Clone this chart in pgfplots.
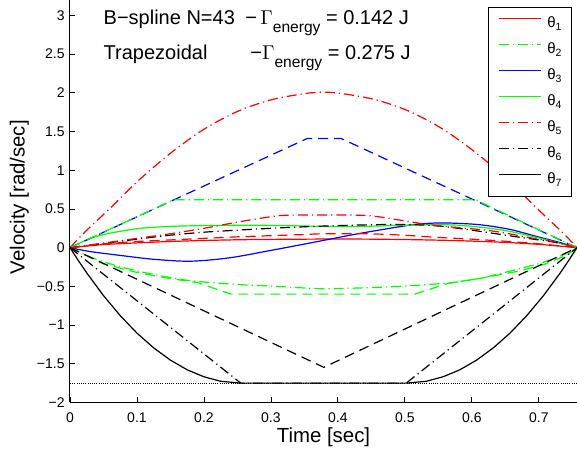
\documentclass[border=0pt]{standalone}
\usepackage{pgfplots}
\pgfplotsset{compat=1.18}
\usepackage{fontspec}
\setmainfont{Liberation Sans}
\tikzset{
    dsh/.style={dash pattern=on 5pt off 3pt},
    dd/.style={dash pattern=on 5pt off 2pt on 0.6pt off 2pt},
}

\begin{document}
\begin{tikzpicture}
\begin{axis}[
    scale only axis,
    width=253.5pt, height=201.25pt,
    xmin=0, xmax=0.757, ymin=-2, ymax=3.2,
    axis x line*=bottom, axis y line*=left,
    axis line style={-, line width=0.5pt},
    xtick={0,0.1,0.2,0.3,0.4,0.5,0.6,0.7},
    xticklabels={0,0.1,0.2,0.3,0.4,0.5,0.6,0.7},
    ytick={-2,-1.5,-1,-0.5,0,0.5,1,1.5,2,2.5,3},
    yticklabels={−2,−1.5,−1,−0.5,0,0.5,1,1.5,2,2.5,3},
    tick align=inside, major tick length=2.5pt,
    every tick/.style={black, line width=0.4pt},
    tick label style={font=\fontsize{7}{8}\selectfont},
    xticklabel style={anchor=base, yshift=-10.25pt},
    yticklabel style={inner sep=2.5pt},
    label style={font=\fontsize{10.2}{12}\selectfont},
    xlabel={Time [sec]},
    ylabel={Velocity [rad/sec]},
    xlabel style={at={(axis description cs:0.5,0)}, anchor=base, yshift=-20.25pt},
    ylabel style={at={(axis description cs:-0.0895,0.51)}, anchor=base},
    legend style={at={(rel axis cs:0.990,0.983)}, anchor=north east,
        draw=black, line width=0.5pt, font=\fontsize{7.5}{8}\selectfont,
        row sep=4.6pt, column sep=3pt, inner xsep=4.5pt, inner ysep=4pt,
        nodes={inner sep=0pt, text height=6.2pt, text depth=2.2pt}},
    legend cell align=left,
    legend image code/.code={\draw[#1, line width=0.7pt] (0pt,2.6pt) -- (21pt,2.6pt);},
    every axis plot/.append style={line width=0.6pt},
]
\addlegendimage{red}
\addlegendentry{θ\textsubscript{1}}
\addlegendimage{green, dd}
\addlegendentry{θ\textsubscript{2}}
\addlegendimage{blue}
\addlegendentry{θ\textsubscript{3}}
\addlegendimage{green}
\addlegendentry{θ\textsubscript{4}}
\addlegendimage{red, dd}
\addlegendentry{θ\textsubscript{5}}
\addlegendimage{black, dd}
\addlegendentry{θ\textsubscript{6}}
\addlegendimage{black}
\addlegendentry{θ\textsubscript{7}}
% B-spline N=43
\addplot[red, smooth, forget plot] coordinates {(0,0) (0.05,0.04) (0.1,0.062) (0.15,0.08) (0.2,0.093) (0.25,0.102) (0.3,0.107) (0.35,0.11) (0.4,0.112) (0.45,0.11) (0.5,0.105) (0.55,0.097) (0.6,0.085) (0.65,0.068) (0.7,0.043) (0.757,0)};
\addplot[green, dd, smooth, forget plot] coordinates {(0,0) (0.025,-0.1) (0.05,-0.183) (0.1,-0.3) (0.174,-0.42) (0.25,-0.475) (0.3,-0.495) (0.376,-0.53) (0.45,-0.515) (0.5,-0.495) (0.572,-0.45) (0.62,-0.38) (0.672,-0.27) (0.71,-0.18) (0.741,-0.075) (0.757,0)};
\addplot[blue, smooth, forget plot] coordinates {(0,0) (0.03,-0.05) (0.075,-0.1) (0.125,-0.15) (0.18,-0.175) (0.239,-0.13) (0.3,-0.035) (0.34,0.03) (0.373,0.085) (0.43,0.18) (0.488,0.265) (0.52,0.305) (0.556,0.32) (0.6,0.305) (0.627,0.28) (0.66,0.23) (0.701,0.135) (0.73,0.07) (0.757,0)};
\addplot[green, smooth, forget plot] coordinates {(0,0) (0.025,0.1) (0.05,0.17) (0.1,0.245) (0.15,0.275) (0.2,0.285) (0.25,0.29) (0.3,0.288) (0.35,0.28) (0.4,0.272) (0.45,0.278) (0.5,0.29) (0.54,0.297) (0.58,0.29) (0.627,0.25) (0.66,0.205) (0.7,0.125) (0.73,0.06) (0.757,0)};
\addplot[red, dd, smooth, forget plot] coordinates {(0,0) (0.022,0.2) (0.06,0.51) (0.1,0.85) (0.15,1.22) (0.2,1.53) (0.25,1.76) (0.3,1.91) (0.35,1.99) (0.3785,2.01) (0.407,1.99) (0.457,1.91) (0.507,1.76) (0.557,1.53) (0.607,1.22) (0.657,0.85) (0.697,0.51) (0.735,0.2) (0.757,0)};
\addplot[black, dd, smooth, forget plot] coordinates {(0,0) (0.05,0.054) (0.1,0.11) (0.149,0.161) (0.2,0.2) (0.249,0.226) (0.3,0.25) (0.35,0.27) (0.4,0.285) (0.45,0.296) (0.5,0.3) (0.55,0.28) (0.6,0.226) (0.667,0.14) (0.726,0.066) (0.757,0)};
\addplot[black, forget plot] coordinates {(0,0) (0.0125,-0.167) (0.025,-0.326) (0.05,-0.619) (0.075,-0.878) (0.1,-1.104) (0.125,-1.295) (0.15,-1.453) (0.175,-1.578) (0.2,-1.668) (0.225,-1.726) (0.255,-1.75) (0.502,-1.75) (0.532,-1.726) (0.557,-1.668) (0.582,-1.578) (0.607,-1.453) (0.632,-1.295) (0.657,-1.104) (0.682,-0.878) (0.707,-0.619) (0.732,-0.326) (0.7445,-0.167) (0.757,0)};
% Trapezoidal
\addplot[red, dsh, smooth, forget plot] coordinates {(0,0) (0.05,0.05) (0.1,0.08) (0.15,0.1) (0.2,0.12) (0.25,0.14) (0.3,0.155) (0.35,0.17) (0.38,0.18) (0.45,0.178) (0.5,0.16) (0.55,0.132) (0.6,0.11) (0.65,0.083) (0.7,0.05) (0.757,0)};
\addplot[green, dsh, forget plot] coordinates {(0,0) (0.05,-0.21) (0.1,-0.32) (0.15,-0.4) (0.19,-0.45) (0.24,-0.6) (0.515,-0.6) (0.565,-0.46) (0.62,-0.385) (0.672,-0.3) (0.71,-0.21) (0.741,-0.1) (0.757,0)};
\addplot[blue, dsh, forget plot] coordinates {(0,0) (0.354,1.41) (0.405,1.41) (0.757,0)};
\addplot[green, dd, forget plot] coordinates {(0,0) (0.155,0.62) (0.605,0.62) (0.757,0)};
\addplot[red, dd, smooth, forget plot] coordinates {(0,0) (0.05,0.06) (0.1,0.12) (0.15,0.18) (0.2,0.25) (0.25,0.33) (0.3,0.4) (0.33,0.42) (0.43,0.42) (0.46,0.4) (0.49,0.36) (0.543,0.29) (0.627,0.22) (0.686,0.13) (0.726,0.07) (0.757,0)};
\addplot[black, dsh, forget plot] coordinates {(0,0) (0.379,-1.546) (0.757,0)};
\addplot[black, dd, forget plot] coordinates {(0,0) (0.255,-1.75) (0.502,-1.75) (0.757,0)};
% limit
\addplot[black, line width=0.4pt, dash pattern=on 0.5pt off 0.6pt, forget plot] coordinates {(0,-1.75) (0.757,-1.75)};
\node[anchor=base west, inner sep=0pt, font=\fontsize{10}{12}\selectfont] at (rel axis cs:0.0657,0.938) {B−spline N=43};
\node[anchor=base west, inner sep=0pt, font=\fontsize{10}{12}\selectfont] at (rel axis cs:0.345,0.938) {−\,$\Gamma$\raisebox{-4pt}{\fontsize{7.8}{8}\selectfont energy} = 0.142 J};
\node[anchor=base west, inner sep=0pt, font=\fontsize{10}{12}\selectfont] at (rel axis cs:0.0657,0.853) {Trapezoidal};
\node[anchor=base west, inner sep=0pt, font=\fontsize{10}{12}\selectfont] at (rel axis cs:0.355,0.853) {−$\Gamma$\raisebox{-4pt}{\fontsize{7.8}{8}\selectfont energy} = 0.275 J};
\coordinate (bl) at (rel axis cs:0,0);
\coordinate (tr) at (rel axis cs:1,1);
\end{axis}
\pgfresetboundingbox
\path[use as bounding box] ([xshift=-35pt, yshift=-23.75pt]bl) rectangle (tr);
\end{tikzpicture}
\end{document}
